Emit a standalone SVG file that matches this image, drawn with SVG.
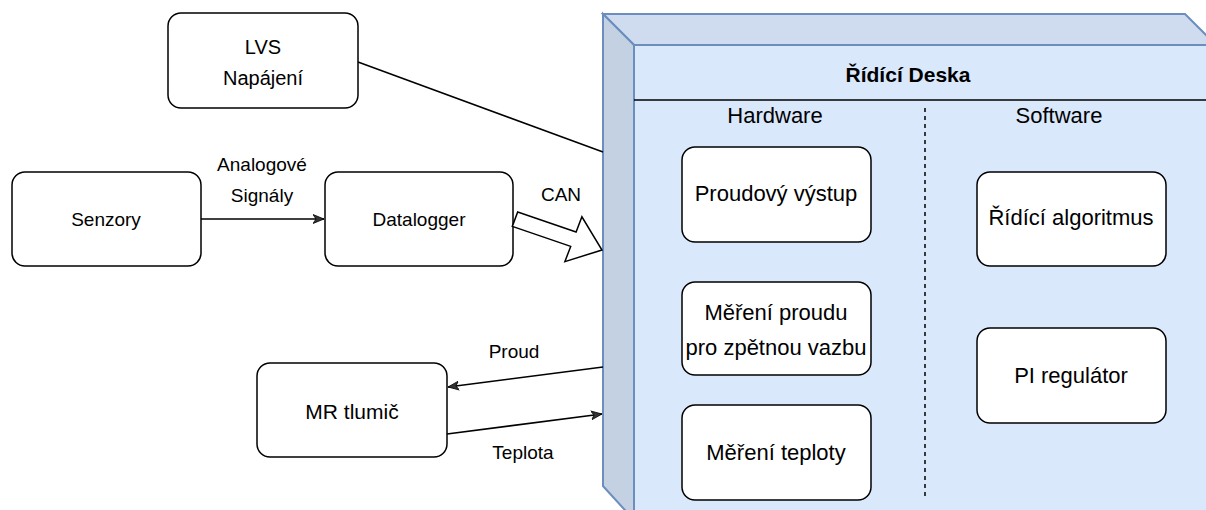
<svg xmlns="http://www.w3.org/2000/svg" width="1206" height="510" viewBox="0 0 1206 510">
<defs>
<style>
.box{fill:#fff;stroke:#000;stroke-width:1.5}
.t{font-family:"Liberation Sans",Arial,sans-serif;fill:#000;text-anchor:middle;dominant-baseline:central}
.o{font-size:19px}
.i{font-size:22px}
.l{font-size:19px}
.conn{stroke:#000;stroke-width:1.5;fill:none}
.cube{stroke:#6c8ebf;stroke-width:2}
</style>
<marker id="ah" viewBox="0 0 12 10" refX="11" refY="5" markerWidth="12" markerHeight="10" markerUnits="userSpaceOnUse" orient="auto">
<path d="M0,0.5 L11,5 L0,9.5 L3,5 z" fill="#333" stroke="#000" stroke-width="0.8"/>
</marker>
</defs>
<rect width="1206" height="510" fill="#fff"/>

<g id="board">
<polygon class="cube" points="634,45 1216,45 1216,520 634,520" fill="#dae8fc"/>
<polygon class="cube" points="603,14 1185,14 1216,45 634,45" fill="#cfdcef"/>
<polygon class="cube" points="603,14 634,45 634,520 603,486" fill="#c4d1e3"/>
<line x1="634" y1="100" x2="1206" y2="100" stroke="#000" stroke-width="1.5"/>
<line x1="925" y1="108" x2="925" y2="500" stroke="#000" stroke-width="1.5" stroke-dasharray="4 4"/>
<text class="t" x="908" y="74" font-size="21" font-weight="bold">Řídící Deska</text>
<text class="t i" x="775" y="115">Hardware</text>
<text class="t i" x="1059" y="115">Software</text>
</g>

<g id="lvs">
<rect class="box" x="168" y="13" width="190" height="95" rx="13"/>
<text class="t" x="263" y="47" font-size="20">LVS</text>
<text class="t" x="263" y="78" font-size="20">Napájení</text>
</g>

<g id="senzory">
<rect class="box" x="12" y="172" width="189" height="94" rx="13"/>
<text class="t o" x="106" y="219">Senzory</text>
</g>

<g id="datalogger">
<rect class="box" x="325" y="172" width="188" height="94" rx="13"/>
<text class="t o" x="419" y="219">Datalogger</text>
</g>

<g id="mr">
<rect class="box" x="257" y="363" width="190" height="94" rx="13"/>
<text class="t" x="352" y="411" font-size="21">MR tlumič</text>
</g>

<g id="proudovy">
<rect class="box" x="682" y="147" width="189" height="95" rx="13"/>
<text class="t i" x="776" y="193">Proudový výstup</text>
</g>

<g id="mereni-proudu">
<rect class="box" x="682" y="282" width="189" height="93" rx="13"/>
<text class="t i" x="776" y="312">Měření proudu</text>
<text class="t i" x="776" y="347">pro zpětnou vazbu</text>
</g>

<g id="mereni-teploty">
<rect class="box" x="682" y="405" width="189" height="95" rx="13"/>
<text class="t i" x="776" y="452">Měření teploty</text>
</g>

<g id="algoritmus">
<rect class="box" x="977" y="172" width="189" height="94" rx="13"/>
<text class="t i" x="1071" y="217">Řídící algoritmus</text>
</g>

<g id="pi">
<rect class="box" x="977" y="328" width="189" height="95" rx="13"/>
<text class="t i" x="1071" y="375">PI regulátor</text>
</g>

<g id="connectors">
<line class="conn" x1="358" y1="62" x2="603" y2="152"/>
<line class="conn" x1="201" y1="219" x2="324" y2="219" marker-end="url(#ah)"/>
<text class="t l" x="262" y="164">Analogové</text>
<text class="t l" x="262" y="195">Signály</text>
<polygon points="517.7,212 576.1,232 581.9,216.8 602,250 564.9,261.6 570.7,246.4 512.3,226.4" fill="#fff" stroke="#000" stroke-width="1.5" stroke-linejoin="miter"/>
<text class="t l" x="561" y="194">CAN</text>
<line class="conn" x1="603" y1="367" x2="448" y2="387" marker-end="url(#ah)"/>
<text class="t l" x="514" y="351">Proud</text>
<line class="conn" x1="447" y1="434" x2="602" y2="414" marker-end="url(#ah)"/>
<text class="t l" x="523" y="452">Teplota</text>
</g>
</svg>
